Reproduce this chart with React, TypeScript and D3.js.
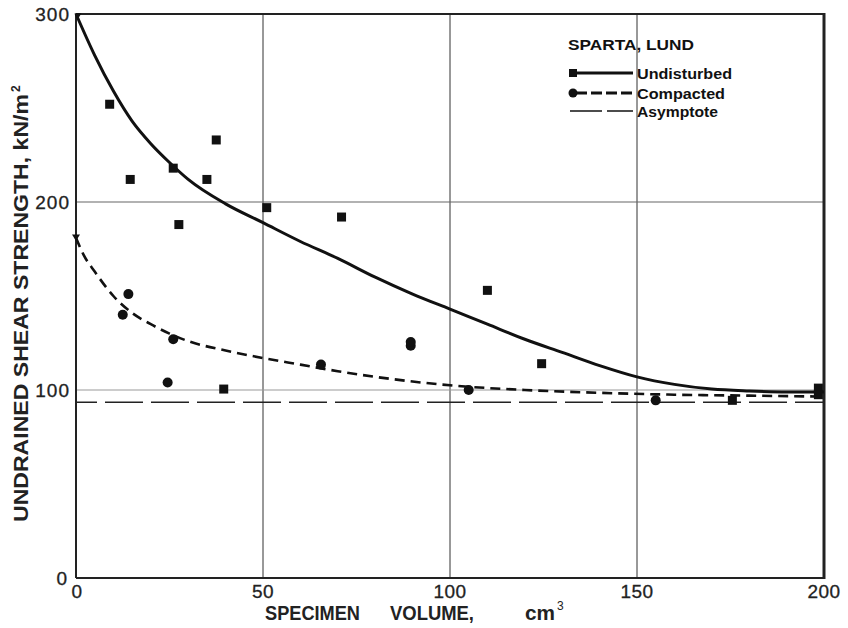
import React from "react";
import * as d3 from "d3";

// Specimen volume (cm3) vs. undrained shear strength (kN/m2), Sparta, Lund
const xTicks = [0, 50, 100, 150, 200];
const yTicks = [0, 100, 200, 300];

// Measured points, undisturbed specimens [volume, strength]
const undisturbedPts: [number, number][] = [
  [9, 252], [14.5, 212], [26, 218], [27.5, 188], [35, 212], [37.5, 233],
  [39.5, 100.5], [51, 197], [71, 192], [110, 153], [124.5, 114],
  [175.5, 94.5], [198.5, 101], [198.5, 97.5],
];

// Measured points, compacted specimens
const compactedPts: [number, number][] = [
  [12.5, 140], [14, 151], [24.5, 104], [26, 127], [65.5, 113.5],
  [89.5, 123.5], [89.5, 125.5], [105, 100], [155, 94.5],
];

// Fitted trend curves
const undisturbedCurve: [number, number][] = [
  [0, 300], [5, 278], [10, 259], [15, 243], [20, 231], [25, 221], [30, 212],
  [40, 199], [50, 189], [60, 179], [70, 170], [80, 160], [90, 151],
  [100, 143], [110, 135], [120, 127], [130, 120], [140, 113], [150, 107],
  [160, 103], [170, 100.5], [180, 99.5], [190, 99], [200, 99],
];

const compactedCurve: [number, number][] = [
  [0, 181], [2, 172], [5, 163], [10, 150], [15, 141], [20, 135], [25, 130],
  [30, 126], [40, 121], [50, 117], [60, 113.5], [70, 110], [80, 107],
  [90, 104.5], [100, 102.5], [120, 100], [140, 98.5], [160, 97.5],
  [180, 97], [200, 96.5],
];

const asymptote = 93.5;

const FONT = "'Liberation Sans', Arial, Helvetica, sans-serif";

export default function App() {
  const x = d3.scaleLinear().domain([0, 200]).range([76, 824]);
  const y = d3.scaleLinear().domain([0, 300]).range([578, 14]);

  const line = d3
    .line<[number, number]>()
    .x((d) => x(d[0]))
    .y((d) => y(d[1]))
    .curve(d3.curveMonotoneX);

  const tri = (cx: number, cy: number, s: number) =>
    `M${cx - s},${cy - s * 0.8}L${cx + s},${cy - s * 0.8}L${cx},${cy + s * 0.8}Z`;

  return (
    <svg
      width={848}
      height={628}
      style={{ position: "absolute", left: 0, top: 0, background: "#fff" }}
    >
      <rect x={0} y={0} width={848} height={628} fill="#fff" />

      {/* grid */}
      {[50, 100, 150].map((v) => (
        <line key={"gx" + v} x1={x(v)} x2={x(v)} y1={y(300)} y2={y(0)} stroke="#333" strokeWidth={1} />
      ))}
      <line x1={x(0)} x2={x(200)} y1={y(200)} y2={y(200)} stroke="#666" strokeWidth={1.2} />
      <line x1={x(0)} x2={x(200)} y1={y(100)} y2={y(100)} stroke="#999" strokeWidth={1.2} />

      {/* asymptote */}
      <line
        x1={x(0)}
        x2={x(200)}
        y1={y(asymptote)}
        y2={y(asymptote)}
        stroke="#222"
        strokeWidth={1.5}
        strokeDasharray="38 8"
        strokeDashoffset={17}
      />

      {/* frame */}
      <line x1={x(0)} x2={x(200)} y1={y(300)} y2={y(300)} stroke="#222" strokeWidth={2.2} />
      <line x1={x(0)} x2={x(200)} y1={y(0)} y2={y(0)} stroke="#222" strokeWidth={2.2} />
      <line x1={x(0)} x2={x(0)} y1={y(300)} y2={y(0)} stroke="#222" strokeWidth={2} />
      <line x1={x(200)} x2={x(200)} y1={y(300) - 1} y2={y(0) + 1} stroke="#222" strokeWidth={3} />

      {/* curves */}
      <path d={line(undisturbedCurve) || ""} fill="none" stroke="#111" strokeWidth={3} />
      <path
        d={line(compactedCurve) || ""}
        fill="none"
        stroke="#111"
        strokeWidth={2.6}
        strokeDasharray="10 6"
      />
      <path d={tri(x(0), y(181), 4)} fill="#111" />
      <path d={tri(x(0) + 2, y(300) + 2, 3.5)} fill="#111" />

      {/* points */}
      {undisturbedPts.map((d, i) => (
        <rect key={"u" + i} x={x(d[0]) - 4.5} y={y(d[1]) - 4.5} width={9} height={9} fill="#111" />
      ))}
      {compactedPts.map((d, i) => (
        <circle key={"c" + i} cx={x(d[0])} cy={y(d[1])} r={5} fill="#111" />
      ))}

      {/* y tick labels */}
      {yTicks.map((v) => (
        <text
          key={"yt" + v}
          x={v === 0 ? 68 : 70}
          y={y(v) + 7}
          textAnchor="end"
          fontFamily={FONT}
          fontSize={19}
          letterSpacing={1}
          fill="#222"
          stroke="#222"
          strokeWidth={0.3}
        >
          {v}
        </text>
      ))}

      {/* x tick labels */}
      {xTicks.map((v) => (
        <text
          key={"xt" + v}
          x={x(v) + (v === 0 ? 1 : 0)}
          y={598}
          textAnchor="middle"
          fontFamily={FONT}
          fontSize={19}
          letterSpacing={0.5}
          fill="#222"
          stroke="#222"
          strokeWidth={0.3}
        >
          {v}
        </text>
      ))}

      {/* x title */}
      <g fontFamily={FONT} fontWeight="bold" fontSize={19.5} fill="#222">
        <text x={265} y={620} textLength={95} lengthAdjust="spacingAndGlyphs">SPECIMEN</text>
        <text x={390} y={620} textLength={84} lengthAdjust="spacingAndGlyphs">VOLUME,</text>
        <text x={525} y={620} textLength={30} lengthAdjust="spacingAndGlyphs">cm</text>
        <text x={557} y={610} fontSize={12} fontWeight="normal">3</text>
      </g>

      {/* y title */}
      <g transform="translate(28,302) rotate(-90)" fontFamily={FONT} fontWeight="bold" fill="#222">
        <text x={-220} y={0} fontSize={20} textLength={428} lengthAdjust="spacingAndGlyphs">
          UNDRAINED SHEAR STRENGTH, kN/m
        </text>
        <text x={210} y={-8} fontSize={12}>2</text>
      </g>

      {/* legend */}
      <g fontFamily={FONT} fontWeight="bold" fill="#111">
        <text x={568} y={50} fontSize={14} textLength={126} lengthAdjust="spacingAndGlyphs">
          SPARTA, LUND
        </text>

        <rect x={569} y={69} width={8} height={8} fill="#111" />
        <line x1={577} x2={633} y1={73} y2={73} stroke="#111" strokeWidth={3} />
        <text x={637} y={79} fontSize={15} textLength={95} lengthAdjust="spacingAndGlyphs">
          Undisturbed
        </text>

        <circle cx={573} cy={93} r={4.5} fill="#111" />
        <line x1={576} x2={633} y1={93} y2={93} stroke="#111" strokeWidth={3} strokeDasharray="11 4" />
        <text x={637} y={99} fontSize={15} textLength={88} lengthAdjust="spacingAndGlyphs">
          Compacted
        </text>

        <line x1={570} x2={602} y1={111} y2={111} stroke="#111" strokeWidth={1.5} />
        <line x1={607} x2={633} y1={111} y2={111} stroke="#111" strokeWidth={1.5} />
        <text x={637} y={117} fontSize={15} textLength={81} lengthAdjust="spacingAndGlyphs">
          Asymptote
        </text>
      </g>
    </svg>
  );
}
